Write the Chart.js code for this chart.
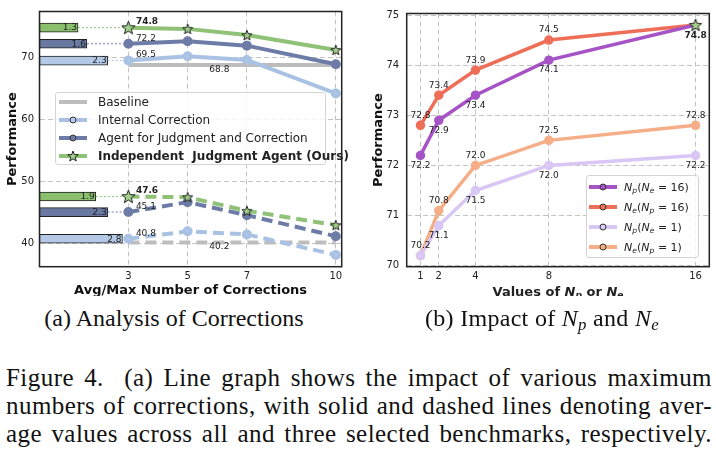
<!DOCTYPE html>
<html>
<head>
<meta charset="utf-8">
<script src="https://cdn.jsdelivr.net/npm/chart.js@4.4.1/dist/chart.umd.min.js"></script>
<style>
  body { margin: 0; width: 716px; height: 462px; background: #fff; position: relative; overflow: hidden; font-family: "DejaVu Sans", sans-serif; color: #222; }
  .panel { position: absolute; top: 0; height: 296px; overflow: hidden; }
  .leg { position: absolute; box-sizing: border-box; border: 1px solid #d4d4d4; border-radius: 3px; background: rgba(255,255,255,0.85); }
  .leg .row { position: absolute; left: 0; height: 18px; display: flex; align-items: center; white-space: nowrap; }
  .leg svg { display: block; flex: none; }
  .xtitle { position: absolute; text-align: center; font-weight: bold; font-size: 13px; line-height: 15px; white-space: nowrap; }
  .xtitle sub, .leg sub { font-size: 70%; vertical-align: -0.25em; line-height: 0; }
  .serif { position: absolute; font-family: "Liberation Serif", "Times New Roman", serif; color: #111; white-space: nowrap; }
  .serif sub { font-size: 70%; vertical-align: -0.25em; line-height: 0; }
  .sub { font-size: 24px; line-height: 26px; text-align: center; }
  .cap { left: 6px; width: 706px; font-size: 25px; line-height: 28px; letter-spacing: 0.45px; text-align: justify; text-align-last: justify; }
</style>
</head>
<body>

<div class="panel" style="left:0;width:360px;">
  <canvas id="chartA"></canvas>
  <div class="leg" style="left:55px;top:92px;width:271px;height:73px;">
    <div class="row" style="top:0"><svg width="42" height="18"><line x1="3" y1="9" x2="31" y2="9" stroke="#bdbdbd" stroke-width="4"/></svg><span style="font-size:12px">Baseline</span></div>
    <div class="row" style="top:18px"><svg width="42" height="18"><line x1="3" y1="9" x2="31" y2="9" stroke="#a9c2e3" stroke-width="4"/><circle cx="17" cy="9" r="3" fill="#b6cce8" stroke="#333" stroke-width="1"/></svg><span style="font-size:12px">Internal Correction</span></div>
    <div class="row" style="top:36px"><svg width="42" height="18"><line x1="3" y1="9" x2="31" y2="9" stroke="#6d7ca6" stroke-width="4"/><circle cx="17" cy="9" r="3" fill="#6d7ca6" stroke="#333" stroke-width="1"/></svg><span style="font-size:12px">Agent for Judgment and Correction</span></div>
    <div class="row" style="top:54px"><svg width="42" height="18"><line x1="3" y1="9" x2="31" y2="9" stroke="#8fc276" stroke-width="4"/><polygon id="legStar" fill="#a3d08c" stroke="#222" stroke-width="1"/></svg><span style="font-size:12px;font-weight:bold">Independent&nbsp; Judgment Agent (Ours)</span></div>
  </div>
</div>

<div class="panel" style="left:360px;width:356px;">
  <canvas id="chartB"></canvas>
  <div class="xtitle" style="left:46.7px;width:302.6px;top:283.5px;">Values of <i>N</i><sub><i>p</i></sub> or <i>N</i><sub><i>e</i></sub></div>
  <div class="leg" style="left:226px;top:175px;width:113px;height:83px;">
    <div class="row" style="top:1px;height:20px"><svg width="37" height="20"><line x1="2" y1="10" x2="30" y2="10" stroke="#a653c6" stroke-width="4"/><circle cx="16" cy="10" r="3" fill="#a653c6" stroke="#333" stroke-width="1"/></svg><span style="font-size:11px"><i>N</i><sub><i>p</i></sub>(<i>N</i><sub><i>e</i></sub> = 16)</span></div>
    <div class="row" style="top:21px;height:20px"><svg width="37" height="20"><line x1="2" y1="10" x2="30" y2="10" stroke="#ef6e58" stroke-width="4"/><circle cx="16" cy="10" r="3" fill="#ef6e58" stroke="#333" stroke-width="1"/></svg><span style="font-size:11px"><i>N</i><sub><i>e</i></sub>(<i>N</i><sub><i>p</i></sub> = 16)</span></div>
    <div class="row" style="top:41px;height:20px"><svg width="37" height="20"><line x1="2" y1="10" x2="30" y2="10" stroke="#d8c6f5" stroke-width="4"/><circle cx="16" cy="10" r="3" fill="#dccdf6" stroke="#333" stroke-width="1"/></svg><span style="font-size:11px"><i>N</i><sub><i>p</i></sub>(<i>N</i><sub><i>e</i></sub> = 1)</span></div>
    <div class="row" style="top:61px;height:20px"><svg width="37" height="20"><line x1="2" y1="10" x2="30" y2="10" stroke="#f5ae88" stroke-width="4"/><circle cx="16" cy="10" r="3" fill="#f5ae88" stroke="#333" stroke-width="1"/></svg><span style="font-size:11px"><i>N</i><sub><i>e</i></sub>(<i>N</i><sub><i>p</i></sub> = 1)</span></div>
  </div>
</div>

<div class="serif sub" style="left:0;width:348px;top:305px;">(a) Analysis of Corrections</div>
<div class="serif sub" style="left:380px;width:324px;top:305px;letter-spacing:0.3px;">(b) Impact of <i>N<sub>p</sub></i> and <i>N<sub>e</sub></i></div>

<div class="serif cap" style="top:363.5px;">Figure 4.&nbsp; (a) Line graph shows the impact of various maximum</div>
<div class="serif cap" style="top:391.5px;">numbers of corrections, with solid and dashed lines denoting aver-</div>
<div class="serif cap" style="top:419.5px;">age values across all and three selected benchmarks, respectively.</div>

<script>
// ---------- (a) analysis of corrections ----------
var corrX = [3, 5, 7, 10];
var corrTicks = [3, 5, 7, 10];
var perfTicksA = [40, 50, 60, 70];
// solid = average over all benchmarks
var baselineAll = 68.8;
var internalAll = [69.5, 70.2, 69.6, 64.2];
var agentAll = [72.2, 72.6, 71.9, 68.9];
var oursAll = [74.8, 74.6, 73.6, 71.2];
// dashed = three selected benchmarks
var baselineSel = 40.2;
var internalSel = [40.8, 42.0, 41.5, 38.2];
var agentSel = [45.1, 46.7, 44.6, 41.2];
var oursSel = [47.6, 47.5, 45.3, 43.0];
// avg number of corrections actually used: internal, agent, ours
var avgCorrAll = [2.3, 1.6, 1.3];
var avgCorrSel = [2.8, 2.3, 1.9];

// ---------- (b) impact of Np and Ne ----------
var nVals = [1, 2, 4, 8, 16];
var nTicks = [1, 2, 4, 8, 16];
var perfTicksB = [70, 71, 72, 73, 74, 75];
var npNe16 = [72.2, 72.9, 73.4, 74.1, 74.8];
var neNp16 = [72.8, 73.4, 73.9, 74.5, 74.8];
var npNe1 = [70.2, 70.8, 71.5, 72.0, 72.2];
var neNp1 = [70.2, 71.1, 72.0, 72.5, 72.8];
var neNp1Text = ['70.2', '70.8', '72.0', '72.5', '72.8'];
var npNe1Text = ['', '71.1', '71.5', '72.0', '72.2'];

var FONT = '"DejaVu Sans", sans-serif';
var col = {
  base: '#bdbdbd',
  internal: '#a9c2e3', internalPt: '#b6cce8', internalBar: '#b3c9e6',
  agent: '#6d7ca6', agentBar: '#6878a0',
  ours: '#8fc276', oursPt: '#a3d08c', oursBar: '#8abf6e',
  np16: '#a653c6', ne16: '#ef6e58', np1: '#d8c6f5', np1Pt: '#dccdf6', ne1: '#f5ae88'
};

function starImg(r, fill) {
  var s = Math.ceil(2 * r + 3);
  var c = document.createElement('canvas');
  c.width = s; c.height = s;
  var g = c.getContext('2d');
  g.beginPath();
  for (var i = 0; i < 10; i++) {
    var rr = i % 2 ? r * 0.42 : r;
    var a = -Math.PI / 2 + i * Math.PI / 5;
    g.lineTo(s / 2 + rr * Math.cos(a), s / 2 + 0.5 + rr * Math.sin(a));
  }
  g.closePath();
  g.fillStyle = fill; g.fill();
  g.lineWidth = 1; g.strokeStyle = '#222'; g.stroke();
  return c;
}
// legend star
(function () {
  var pts = [];
  for (var i = 0; i < 10; i++) {
    var rr = i % 2 ? 2.3 : 5.5;
    var a = -Math.PI / 2 + i * Math.PI / 5;
    pts.push((17 + rr * Math.cos(a)).toFixed(2) + ',' + (9.5 + rr * Math.sin(a)).toFixed(2));
  }
  document.getElementById('legStar').setAttribute('points', pts.join(' '));
})();

var bigStar = starImg(7, col.oursPt);
var smallStar = starImg(5.3, col.oursPt);
var bestStar = starImg(6.5, col.oursPt);

function pts(xs, ys) {
  return xs.map(function (x, i) { return { x: x, y: ys[i] }; });
}

// frame around plot area
var framePlugin = {
  id: 'frame',
  afterDraw: function (chart) {
    var a = chart.chartArea, ctx = chart.ctx;
    ctx.save();
    ctx.strokeStyle = '#222';
    ctx.lineWidth = 1.5;
    ctx.strokeRect(a.left, a.top, a.right - a.left, a.bottom - a.top);
    ctx.restore();
  }
};

// value labels
var labelPlugin = {
  id: 'valueLabels',
  afterDatasetsDraw: function (chart, args, opts) {
    var ctx = chart.ctx, xs = chart.scales.x, ys = chart.scales.y;
    ctx.save();
    (opts.items || []).forEach(function (it) {
      if (!it.text) return;
      ctx.font = (it.bold ? 'bold ' : '') + '9px ' + FONT;
      ctx.fillStyle = '#222';
      ctx.textAlign = it.align || 'center';
      ctx.textBaseline = 'middle';
      ctx.fillText(it.text, xs.getPixelForValue(it.x) + (it.dx || 0), ys.getPixelForValue(it.y) + (it.dy || 0));
    });
    ctx.restore();
  }
};

function gridOpts() {
  return { color: '#c4c4c4', lineWidth: 1, drawTicks: false, offset: false };
}

// ---------------- chart (a) ----------------
var lineW = 4;
var dash = [11, 6];
var firstVals = [internalAll[0], agentAll[0], oursAll[0], internalSel[0], agentSel[0], oursSel[0]];
var avgVals = avgCorrAll.concat(avgCorrSel);
var barCols = [col.internalBar, col.agentBar, col.oursBar, col.internalBar, col.agentBar, col.oursBar];
var connCols = [col.internal, col.agent, col.ours, col.internal, col.agent, col.ours];

var dsA = [
  { data: pts(corrX, oursAll), borderColor: col.ours, borderWidth: lineW, pointStyle: [bigStar, smallStar, smallStar, smallStar], pointRadius: 5 },
  { data: pts(corrX, oursSel), borderColor: col.ours, borderWidth: lineW, borderDash: dash, pointStyle: [bigStar, smallStar, smallStar, smallStar], pointRadius: 5 },
  { data: pts(corrX, agentAll), borderColor: col.agent, borderWidth: lineW, pointBackgroundColor: col.agent },
  { data: pts(corrX, agentSel), borderColor: col.agent, borderWidth: lineW, borderDash: dash, pointBackgroundColor: col.agent },
  { data: pts(corrX, internalAll), borderColor: col.internal, borderWidth: lineW, pointBackgroundColor: col.internalPt },
  { data: pts(corrX, internalSel), borderColor: col.internal, borderWidth: lineW, borderDash: dash, pointBackgroundColor: col.internalPt },
  { data: [{ x: corrX[0], y: baselineAll }, { x: corrX[corrX.length - 1], y: baselineAll }], borderColor: col.base, borderWidth: lineW, pointRadius: 0 },
  { data: [{ x: corrX[0], y: baselineSel }, { x: corrX[corrX.length - 1], y: baselineSel }], borderColor: col.base, borderWidth: lineW, borderDash: dash, pointRadius: 0 }
];
// thin dotted connectors from each bar to its first point
firstVals.forEach(function (v, i) {
  dsA.push({ data: [{ x: avgVals[i], y: v }, { x: corrX[0], y: v }], borderColor: connCols[i], borderWidth: 1, borderDash: [2, 2], pointRadius: 0 });
});
// horizontal bars: avg number of corrections
dsA.push({
  type: 'bar', indexAxis: 'y',
  data: firstVals.map(function (v, i) { return { x: avgVals[i], y: v }; }),
  backgroundColor: barCols, borderColor: '#222', borderWidth: 1, borderSkipped: false, barThickness: 9
});

var labelsA = [];
firstVals.forEach(function (v, i) {
  labelsA.push({ x: corrX[0], y: v, text: v.toFixed(1), dx: 7.5, dy: -5.5, align: 'left', bold: i % 3 === 2 });
  labelsA.push({ x: avgVals[i], y: v, text: avgVals[i].toFixed(1), dx: -1, dy: 0.5, align: 'right' });
});
labelsA.push({ x: 6.07, y: baselineAll, text: baselineAll.toFixed(1), dy: 4.5 });
labelsA.push({ x: 6.07, y: baselineSel, text: baselineSel.toFixed(1), dy: 4.5 });

new Chart(document.getElementById('chartA'), {
  type: 'line',
  data: { datasets: dsA },
  options: {
    responsive: true, maintainAspectRatio: false, animation: false,
    layout: { padding: { top: 5, right: 18.3, left: 0, bottom: 0 } },
    elements: {
      line: { tension: 0, fill: false },
      point: { radius: 3, borderColor: '#333', borderWidth: 1, hoverRadius: 3 }
    },
    scales: {
      x: {
        type: 'linear', min: 0, max: 10.2, offset: false,
        afterBuildTicks: function (s) { s.ticks = corrTicks.map(function (v) { return { value: v }; }); },
        afterFit: function (s) { s.height = 29.3; },
        grid: gridOpts(),
        border: { display: false, dash: [5, 3] },
        ticks: { font: { family: FONT, size: 10 }, color: '#222', padding: 4, maxRotation: 0 },
        title: { display: true, text: 'Avg/Max Number of Corrections', font: { family: FONT, size: 13, weight: 'bold' }, color: '#111', padding: { top: 0, bottom: -2.5 } }
      },
      y: {
        type: 'linear', min: 36.3, max: 77.4, offset: false, beginAtZero: false,
        afterBuildTicks: function (s) { s.ticks = perfTicksA.map(function (v) { return { value: v }; }); },
        afterFit: function (s) { s.width = 39.5; },
        grid: gridOpts(),
        border: { display: false, dash: [5, 3] },
        ticks: { font: { family: FONT, size: 10 }, color: '#222', padding: 5.5 },
        title: { display: true, text: 'Performance', font: { family: FONT, size: 13, weight: 'bold' }, color: '#111', padding: { top: 4.5, bottom: 0 } }
      }
    },
    plugins: { legend: { display: false }, tooltip: { enabled: false }, valueLabels: { items: labelsA } }
  },
  plugins: [framePlugin, labelPlugin]
});

// ---------------- chart (b) ----------------
var lastHidden = [3, 3, 3, 3, 0];
var dsB = [
  { data: [{ x: nVals[nVals.length - 1], y: npNe16[npNe16.length - 1] }], showLine: false, pointStyle: bestStar, pointRadius: 5 },
  { data: pts(nVals, npNe16), borderColor: col.np16, borderWidth: 3.5, pointBackgroundColor: col.np16, pointRadius: lastHidden },
  { data: pts(nVals, neNp16), borderColor: col.ne16, borderWidth: 3.5, pointBackgroundColor: col.ne16, pointRadius: lastHidden },
  { data: pts(nVals, npNe1), borderColor: col.np1, borderWidth: 3.5, pointBackgroundColor: col.np1Pt },
  { data: pts(nVals, neNp1), borderColor: col.ne1, borderWidth: 3.5, pointBackgroundColor: col.ne1 }
];

var labelsB = [];
nVals.forEach(function (n, i) {
  if (i < nVals.length - 1) {
    labelsB.push({ x: n, y: neNp16[i], text: neNp16[i].toFixed(1), dy: -10 });
    labelsB.push({ x: n, y: npNe16[i], text: npNe16[i].toFixed(1), dy: 10 });
  }
  labelsB.push({ x: n, y: neNp1[i], text: neNp1Text[i], dy: -10 });
  labelsB.push({ x: n, y: npNe1[i], text: npNe1Text[i], dy: 10.5 });
});
labelsB.push({ x: nVals[4], y: npNe16[4], text: npNe16[4].toFixed(1), dy: 10.5, bold: true });

new Chart(document.getElementById('chartB'), {
  type: 'line',
  data: { datasets: dsB },
  options: {
    responsive: true, maintainAspectRatio: false, animation: false,
    layout: { padding: { top: 5, right: 6.7, left: 0, bottom: 0 } },
    elements: {
      line: { tension: 0, fill: false },
      point: { radius: 3, borderColor: '#333', borderWidth: 1, hoverRadius: 3 }
    },
    scales: {
      x: {
        type: 'linear', min: 0.25, max: 16.75, offset: false,
        afterBuildTicks: function (s) { s.ticks = nTicks.map(function (v) { return { value: v }; }); },
        afterFit: function (s) { s.height = 29.3; },
        grid: gridOpts(),
        border: { display: false, dash: [5, 3] },
        ticks: { font: { family: FONT, size: 10 }, color: '#222', padding: 4, maxRotation: 0 }
      },
      y: {
        type: 'linear', min: 69.98, max: 75.03,
        afterBuildTicks: function (s) { s.ticks = perfTicksB.map(function (v) { return { value: v }; }); },
        afterFit: function (s) { s.width = 46.7; },
        grid: gridOpts(),
        border: { display: false, dash: [5, 3] },
        ticks: { font: { family: FONT, size: 10 }, color: '#222', padding: 7.5 },
        title: { display: true, text: 'Performance', font: { family: FONT, size: 13, weight: 'bold' }, color: '#111', padding: { top: 10.5, bottom: 0 } }
      }
    },
    plugins: { legend: { display: false }, tooltip: { enabled: false }, valueLabels: { items: labelsB } }
  },
  plugins: [framePlugin, labelPlugin]
});
</script>
</body>
</html>
